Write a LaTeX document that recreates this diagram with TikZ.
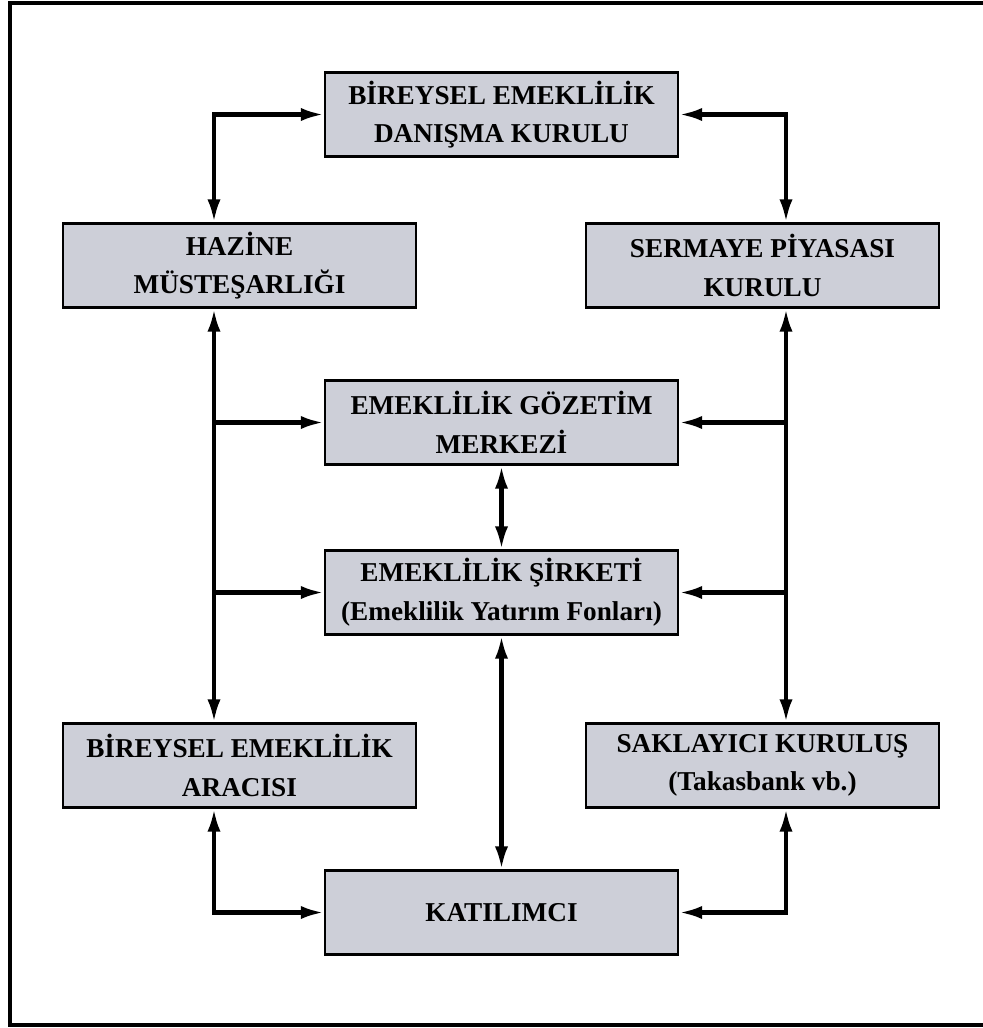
\documentclass[tikz,border=0pt]{standalone}
\usepackage{fontspec}
\setmainfont{Liberation Serif}
\usepackage{xcolor}
\usetikzlibrary{arrows.meta}
\definecolor{boxgray}{RGB}{205,207,216}

\begin{document}
\begin{tikzpicture}[x=0.02cm,y=-0.02cm,
		kutu/.style={draw,line width=1.5pt,fill=boxgray,minimum width=7.06cm,minimum height=1.68cm,
			inner sep=0pt,align=center,font=\fontsize{15.5}{22}\selectfont\bfseries},
		conn/.style={line width=2.3pt,{Latex[length=13pt,width=7.5pt]}-{Latex[length=13pt,width=7.5pt]}},
		tek/.style={line width=2.3pt,-{Latex[length=13pt,width=7.5pt]}}]
			\useasboundingbox (0,0) rectangle (983,1028);
%			\tikzset{kutu/.append style={rounded corners=0pt}}
			\draw[line width=2pt] (983,3) -- (10,3) -- (10,1025) -- (983,1025);
			\node[kutu] (bedk) at (501.5,114.5) {BİREYSEL EMEKLİLİK\\DANIŞMA KURULU};
			\node[kutu] (hazine) at (239.5,265.5) {HAZİNE\\MÜSTEŞARLIĞI};
			\node[kutu] (spk) at (762.5,265.5) {SERMAYE PİYASASI\\KURULU};
			\node[kutu] (egm) at (501.5,422.5) {EMEKLİLİK GÖZETİM\\MERKEZİ};
			\node[kutu] (es) at (501.5,592.5) {EMEKLİLİK ŞİRKETİ\\(Emeklilik Yatırım Fonları)};
			\node[kutu] (araci) at (239.5,765.5) {BİREYSEL EMEKLİLİK\\ARACISI};
			\node[kutu] (sakl) at (762.5,765.5) {SAKLAYICI KURULUŞ\\(Takasbank vb.)};
			\node[kutu] (katil) at (501.5,912.5) {KATILIMCI};
			\coordinate (lx) at (214,0);
			\coordinate (rx) at (786,0);
			\draw[conn] (bedk.west) -| (hazine.north -| lx);
			\draw[conn] (bedk.east) -| (spk.north -| rx);
			\draw[conn] (hazine.south -| lx) -- (araci.north -| lx);
			\draw[conn] (spk.south -| rx) -- (sakl.north -| rx);
			\draw[tek] (egm.west -| lx) -- (egm.west);
			\draw[tek] (es.west -| lx) -- (es.west);
			\draw[tek] (egm.east -| rx) -- (egm.east);
			\draw[tek] (es.east -| rx) -- (es.east);
			\draw[conn] (egm) -- (es);
			\draw[conn] (es) -- (katil);
			\draw[conn] (araci.south -| lx) |- (katil.west);
			\draw[conn] (sakl.south -| rx) |- (katil.east);
		\end{tikzpicture}
\end{document}
